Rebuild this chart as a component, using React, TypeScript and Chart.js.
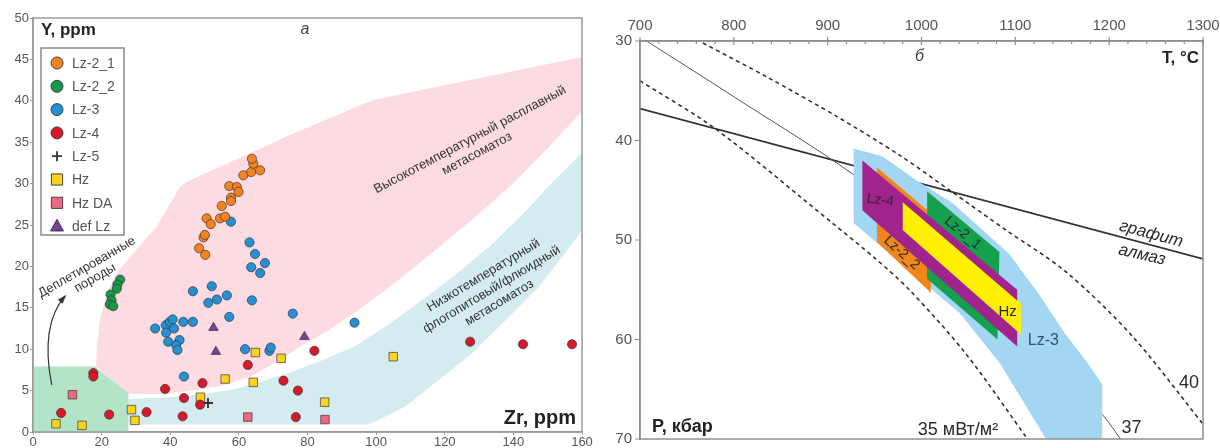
import React, { useEffect, useRef } from 'react';
import { Chart, registerables } from 'chart.js';

Chart.register(...registerables);

type Pt = [number, number];
const FONT = "'Liberation Sans', Arial, sans-serif";

// ================= Panel а : Zr (ppm) vs Y (ppm) =================
const zrTicks = [0, 20, 40, 60, 80, 100, 120, 140, 160];
const yppmTicks = [0, 5, 10, 15, 20, 25, 30, 35, 40, 45, 50];

const lz21: Pt[] = [[48.4, 22.2], [50.2, 21.4], [49.7, 23.5], [50.1, 23.8], [50.6, 25.8], [51.8, 25.1], [54.5, 25.8], [56.0, 26.0], [55.0, 27.3], [57.7, 28.3], [57.7, 27.9], [57.2, 29.7], [59.4, 29.6], [59.9, 29.0], [61.3, 31.0], [63.6, 31.4], [66.2, 31.6], [64.2, 32.4], [63.8, 33.0]];
const lz22: Pt[] = [[25.4, 18.4], [24.6, 17.8], [24.4, 17.3], [22.6, 16.6], [22.9, 15.9], [22.4, 15.4], [23.4, 15.2]];
const lz3: Pt[] = [[57.7, 25.4], [63.1, 22.9], [64.7, 21.5], [67.6, 20.4], [63.6, 19.9], [66.2, 19.2], [46.6, 17.0], [52.1, 17.6], [51.1, 15.6], [53.6, 16.0], [56.5, 16.5], [63.8, 15.9], [57.2, 13.9], [75.7, 14.3], [93.7, 13.2], [35.6, 12.5], [38.7, 12.9], [39.9, 13.3], [40.7, 13.6], [43.8, 13.3], [46.6, 13.3], [41.1, 12.5], [38.8, 12.0], [42.7, 11.1], [39.4, 10.9], [41.7, 10.5], [42.1, 9.9], [61.8, 10.0], [68.9, 9.8], [69.3, 10.2], [44.0, 6.7]];
const lz4: Pt[] = [[8.2, 2.3], [17.6, 7.1], [17.6, 6.7], [22.2, 2.1], [33.1, 2.4], [38.5, 5.2], [43.6, 1.9], [44.0, 4.1], [48.7, 3.3], [49.4, 5.9], [62.6, 8.1], [73.0, 6.2], [76.6, 1.8], [77.2, 5.0], [82.0, 9.8], [127.4, 10.9], [142.8, 10.6], [157.1, 10.6]];
const lz5: Pt[] = [[51.0, 3.5]];
const hz: Pt[] = [[6.7, 1.0], [14.3, 0.8], [28.7, 2.7], [29.7, 1.4], [48.8, 4.2], [56.0, 6.4], [64.2, 6.0], [64.8, 9.6], [72.3, 8.9], [85.0, 3.6], [105.0, 9.1]];
const hzDA: Pt[] = [[11.5, 4.5], [62.6, 1.8], [85.1, 1.5]];
const defLz: Pt[] = [[52.6, 12.6], [53.3, 9.7], [79.1, 11.5]];

// fields (Zr, Y)
const depletedField: Pt[] = [[0, 0], [0, 7.9], [18.0, 7.9], [27.8, 4.7], [27.8, 0]];
const meltField: Pt[] = [[27.8, 4.6], [18.4, 7.9], [18.6, 10.3], [19.5, 13.5], [21.5, 16.8], [24.4, 19.2], [29.2, 21.6], [36.0, 24.8], [42.8, 29.6], [44.7, 30.2], [75.0, 35.9], [99.0, 40.1], [160, 45.3], [160, 38.7], [150, 34.3], [140, 30.0], [127, 25.3], [115, 21.2], [104, 17.5], [94, 14.5], [85, 12.0], [78, 10.4], [72, 8.7], [63, 6.6], [55, 5.6], [48, 5.1], [38, 4.6]];
const fluidField: Pt[] = [[27.8, 4.0], [40, 4.2], [50, 4.6], [58, 5.1], [66, 6.0], [75, 7.2], [85, 8.8], [94, 10.4], [104, 13.1], [114, 16.1], [124, 19.3], [133, 22.4], [142, 26.0], [150, 29.6], [160, 33.7], [160, 24.5], [158, 23.2], [147.4, 17.5], [137.7, 13.5], [128, 9.5], [118.3, 6.3], [108.6, 3.1], [100, 1.3], [97, 0.9], [27.8, 0.9]];

// ================= Panel б : T (°C) vs P (kbar) =================
const tTicks = [700, 800, 900, 1000, 1100, 1200, 1300];
const pTicks = [30, 40, 50, 60, 70];

const graphiteDiamond: Pt[] = [[700, 36.8], [1300, 51.9]];
const geotherm35: Pt[] = [[700, 34.0], [780, 38.8], [905, 48.3], [950, 51.8], [987, 55.0], [1047, 61.4], [1113, 70.0]];
const geotherm37: Pt[] = [[707, 30.0], [800, 35.6], [927, 43.4], [1000, 49.2], [1100, 57.9], [1195, 67.8], [1212, 70.0]];
const geotherm40: Pt[] = [[767, 30.2], [835, 33.6], [910, 37.6], [977, 41.5], [1030, 45.0], [1090, 49.0], [1154, 53.2], [1225, 59.7], [1300, 68.5]];

const lz3Field: Pt[] = [[927.7, 40.8], [958.8, 41.6], [994.4, 44.0], [1033.3, 46.3], [1065.2, 49.0], [1093.6, 51.4], [1125.5, 55.5], [1152.1, 59.3], [1176.6, 62.3], [1192.6, 64.5], [1192.6, 70], [1132.7, 70], [1083, 62.3], [1040.4, 57.3], [987.2, 53.1], [927.7, 48.3]];
const lz22Field: Pt[] = [[952.5, 42.7], [1010, 47.3], [1010, 55.3], [952.5, 50.2]];
const lz21Field: Pt[] = [[1006, 45.1], [1083, 51.2], [1081, 60.0], [1006, 53.9]];
const lz4Field: Pt[] = [[937, 42.0], [1102, 55.0], [1102, 60.7], [937, 47.0]];
const hzField: Pt[] = [[980, 46.2], [1106, 56.4], [1106, 59.5], [980, 49.0]];

// ---------------- helpers ----------------
function poly(chart: any, pts: Pt[], color: string) {
  const { ctx, scales } = chart;
  ctx.beginPath();
  pts.forEach(([a, b], i) => {
    const px = scales.x.getPixelForValue(a);
    const py = scales.y.getPixelForValue(b);
    if (i === 0) ctx.moveTo(px, py); else ctx.lineTo(px, py);
  });
  ctx.closePath();
  ctx.fillStyle = color;
  ctx.fill();
}

function text(chart: any, s: string, a: number, b: number, font: string, color: string, angleDeg = 0, align: CanvasTextAlign = 'center') {
  const { ctx, scales } = chart;
  const px = scales.x.getPixelForValue(a);
  const py = scales.y.getPixelForValue(b);
  ctx.save();
  ctx.translate(px, py);
  ctx.rotate((angleDeg * Math.PI) / 180);
  ctx.font = font;
  ctx.fillStyle = color;
  ctx.textAlign = align;
  ctx.textBaseline = 'middle';
  ctx.fillText(s, 0, 0);
  ctx.restore();
}

function marker(ctx: CanvasRenderingContext2D, style: string, x: number, y: number, r: number, fill: string, stroke: string, lw: number) {
  ctx.beginPath();
  if (style === 'circle') ctx.arc(x, y, r, 0, Math.PI * 2);
  else if (style === 'rect') ctx.rect(x - r * 0.8, y - r * 0.8, r * 1.6, r * 1.6);
  else if (style === 'triangle') { ctx.moveTo(x, y - r * 1.05); ctx.lineTo(x + r, y + r * 0.75); ctx.lineTo(x - r, y + r * 0.75); ctx.closePath(); }
  else if (style === 'cross') { ctx.moveTo(x - r, y); ctx.lineTo(x + r, y); ctx.moveTo(x, y - r); ctx.lineTo(x, y + r); }
  if (style !== 'cross') { ctx.fillStyle = fill; ctx.fill(); }
  ctx.strokeStyle = stroke; ctx.lineWidth = lw; ctx.stroke();
}

const series = [
  { label: 'Lz-2_1', pts: lz21, style: 'circle', color: '#f4821f', r: 4.6 },
  { label: 'Lz-2_2', pts: lz22, style: 'circle', color: '#179a48', r: 4.6 },
  { label: 'Lz-3', pts: lz3, style: 'circle', color: '#2690d6', r: 4.6 },
  { label: 'Lz-4', pts: lz4, style: 'circle', color: '#d61a2c', r: 4.6 },
  { label: 'Lz-5', pts: lz5, style: 'cross', color: '#333333', r: 5 },
  { label: 'Hz', pts: hz, style: 'rect', color: '#fdd21c', r: 6 },
  { label: 'Hz DA', pts: hzDA, style: 'rect', color: '#ec6a82', r: 6 },
  { label: 'def Lz', pts: defLz, style: 'triangle', color: '#7b3f9e', r: 5.5 },
];

const leftPlugin = {
  id: 'leftDecor',
  beforeDatasetsDraw(chart: any) {
    const { ctx, chartArea: a } = chart;
    ctx.save();
    ctx.beginPath();
    ctx.rect(a.left, a.top, a.right - a.left, a.bottom - a.top);
    ctx.clip();
    poly(chart, meltField, '#fcdbe2');
    poly(chart, fluidField, '#d4ebf0');
    poly(chart, depletedField, '#b4e4c8');
    const f = `13px ${FONT}`;
    const c = '#333';
    text(chart, 'Высокотемпературный расплавный', 127.4, 35.3, f, c, -28);
    text(chart, 'метасоматоз', 129.4, 33.6, f, c, -28);
    text(chart, 'Низкотемпературный', 131.3, 18.9, f, c, -31);
    text(chart, 'флогопитовый/флюидный', 133.7, 17.2, f, c, -31);
    text(chart, 'метасоматоз', 135.9, 15.6, f, c, -31);
    text(chart, 'Деплетированные', 15.7, 19.9, f, c, -30);
    text(chart, 'породы', 18.1, 18.6, f, c, -30);
    // arrow
    const X = (v: number) => chart.scales.x.getPixelForValue(v);
    const Y = (v: number) => chart.scales.y.getPixelForValue(v);
    const sx = X(5.45), sy = Y(5.68), cx = X(2.04), cy = Y(12.9), ex = X(9.33), ey = Y(16.4);
    ctx.beginPath();
    ctx.moveTo(sx, sy);
    ctx.quadraticCurveTo(cx, cy, ex, ey);
    ctx.strokeStyle = '#333'; ctx.lineWidth = 1.2; ctx.stroke();
    const ang = Math.atan2(ey - cy, ex - cx);
    ctx.beginPath();
    ctx.moveTo(ex + Math.cos(ang) * 2, ey + Math.sin(ang) * 2);
    ctx.lineTo(ex - Math.cos(ang - 0.4) * 8, ey - Math.sin(ang - 0.4) * 8);
    ctx.lineTo(ex - Math.cos(ang + 0.4) * 8, ey - Math.sin(ang + 0.4) * 8);
    ctx.closePath(); ctx.fillStyle = '#333'; ctx.fill();
    ctx.restore();
  },
  afterDraw(chart: any) {
    const { ctx, chartArea: a } = chart;
    ctx.save();
    ctx.strokeStyle = '#9a9a9a'; ctx.lineWidth = 1.5;
    ctx.strokeRect(a.left, a.top, a.right - a.left, a.bottom - a.top);
    ctx.textBaseline = 'middle';
    ctx.fillStyle = '#222';
    ctx.font = `bold 17px ${FONT}`;
    ctx.textAlign = 'left';
    ctx.fillText('Y, ppm', a.left + 8, a.top + 12);
    ctx.font = `bold 20px ${FONT}`;
    ctx.textAlign = 'right';
    ctx.fillText('Zr, ppm', a.right - 6, a.bottom - 14);
    ctx.font = `italic 16px ${FONT}`;
    ctx.textAlign = 'center';
    ctx.fillStyle = '#444';
    ctx.fillText('а', a.left + 272, a.top + 12);
    // legend
    const lx = a.left + 8, ly = a.top + 30, lw = 83, lh = 187;
    ctx.fillStyle = '#fff';
    ctx.fillRect(lx, ly, lw, lh);
    ctx.strokeStyle = '#8a8a8a'; ctx.lineWidth = 1.5;
    ctx.strokeRect(lx, ly, lw, lh);
    series.forEach((s, i) => {
      const yy = ly + 15 + i * 23.3;
      const rr = s.style === 'circle' ? 6 : s.style === 'rect' ? 7 : s.style === 'cross' ? 5 : 6.5;
      marker(ctx, s.style, lx + 16, yy, rr, s.color, '#333', s.style === 'cross' ? 1.8 : 0.9);
      ctx.font = `14px ${FONT}`;
      ctx.fillStyle = '#555';
      ctx.textAlign = 'left';
      ctx.textBaseline = 'middle';
      ctx.fillText(s.label, lx + 31, yy + 1);
    });
    ctx.restore();
  },
};

const plain = (v: any) => String(v);

function leftConfig(): any {
  return {
    type: 'scatter',
    data: {
      datasets: series.map((s) => ({
        label: s.label,
        data: s.pts.map(([x, y]) => ({ x, y })),
        pointStyle: s.style,
        pointRadius: s.r,
        pointBackgroundColor: s.color,
        pointBorderColor: s.style === 'cross' ? '#333' : 'rgba(50,50,50,0.85)',
        pointBorderWidth: s.style === 'cross' ? 1.8 : 0.8,
        showLine: false,
      })),
    },
    options: {
      animation: false,
      responsive: false,
      events: [],
      layout: { padding: { left: 0, top: 18, right: 18, bottom: 0 } },
      plugins: { legend: { display: false }, tooltip: { enabled: false } },
      scales: {
        x: {
          type: 'linear', min: 0, max: 160,
          afterBuildTicks: (s: any) => { s.ticks = zrTicks.map((v) => ({ value: v })); },
          afterFit: (s: any) => { s.height = 16; s.paddingLeft = 0; s.paddingRight = 0; },
          ticks: { color: '#555', font: { family: FONT, size: 13 }, padding: 0, maxRotation: 0, autoSkip: false, callback: plain },
          grid: { drawOnChartArea: false, drawTicks: true, tickLength: 3, color: '#999' },
          border: { color: '#999', width: 1.5 },
        },
        y: {
          type: 'linear', min: 0, max: 50,
          afterBuildTicks: (s: any) => { s.ticks = yppmTicks.map((v) => ({ value: v })); },
          afterFit: (s: any) => { s.width = 33; s.paddingTop = 0; s.paddingBottom = 0; },
          ticks: { color: '#555', font: { family: FONT, size: 13 }, padding: 1, autoSkip: false, callback: plain },
          grid: { drawOnChartArea: false, drawTicks: true, tickLength: 3, color: '#999' },
          border: { color: '#999', width: 1.5 },
        },
      },
    },
    plugins: [leftPlugin],
  };
}

const rightPlugin = {
  id: 'rightDecor',
  afterDatasetsDraw(chart: any) {
    const { ctx, chartArea: a } = chart;
    ctx.save();
    ctx.beginPath();
    ctx.rect(a.left, a.top, a.right - a.left, a.bottom - a.top);
    ctx.clip();
    poly(chart, lz3Field, '#a3d6f3');
    poly(chart, lz22Field, '#f1861d');
    poly(chart, lz21Field, '#14a04c');
    poly(chart, lz4Field, '#a1238d');
    poly(chart, hzField, '#fff000');
    const c = '#2a2a2a';
    text(chart, 'Lz-4', 956, 46.0, `14px ${FONT}`, c, 8);
    text(chart, 'Lz-2_1', 1043.9, 49.3, `14px ${FONT}`, c, 40);
    text(chart, 'Lz-2_2', 979, 51.3, `14px ${FONT}`, c, 42);
    text(chart, 'Hz', 1091.8, 57.2, `15px ${FONT}`, c, 0);
    text(chart, 'Lz-3', 1129.8, 60.1, `16px ${FONT}`, '#34506a', 0);
    text(chart, 'графит', 1244.7, 49.4, `italic 17px ${FONT}`, c, 15);
    text(chart, 'алмаз', 1235, 51.5, `italic 17px ${FONT}`, c, 13);
    text(chart, '40', 1285, 64.4, `18px ${FONT}`, c, 0);
    text(chart, '37', 1223.9, 68.9, `18px ${FONT}`, c, 0);
    text(chart, '35 мВт/м²', 996, 69.1, `18px ${FONT}`, c, 0, 'left');
    text(chart, 'б', 998, 31.6, `italic 16px ${FONT}`, '#444', 0);
    ctx.restore();
  },
  afterDraw(chart: any) {
    const { ctx, chartArea: a, scales } = chart;
    ctx.save();
    ctx.strokeStyle = '#8f8f8f'; ctx.lineWidth = 1.5;
    ctx.strokeRect(a.left, a.top, a.right - a.left, a.bottom - a.top);
    ctx.lineWidth = 1.2;
    ctx.beginPath();
    for (let t = 700; t <= 1300; t += 20) {
      const px = scales.x.getPixelForValue(t);
      const major = t % 100 === 0;
      ctx.moveTo(px, a.top - (major ? 4 : 0));
      ctx.lineTo(px, a.top + (major ? 4 : 3));
    }
    pTicks.forEach((p) => {
      const py = scales.y.getPixelForValue(p);
      ctx.moveTo(a.left - 5, py);
      ctx.lineTo(a.left + 1, py);
    });
    ctx.stroke();
    ctx.fillStyle = '#222';
    ctx.textBaseline = 'middle';
    ctx.font = `bold 17px ${FONT}`;
    ctx.textAlign = 'right';
    ctx.fillText('T, °C', a.right - 4, a.top + 17);
    ctx.font = `bold 18px ${FONT}`;
    ctx.textAlign = 'left';
    ctx.fillText('P, кбар', a.left + 12, a.bottom - 12);
    ctx.restore();
  },
};

function rightConfig(): any {
  const line = (pts: Pt[], color: string, width: number, dash: number[], tension: number) => ({
    data: pts.map(([x, y]) => ({ x, y })),
    showLine: true,
    borderColor: color,
    borderWidth: width,
    borderDash: dash,
    pointRadius: 0,
    fill: false,
    tension,
  });
  return {
    type: 'scatter',
    data: {
      datasets: [
        line(geotherm37, '#555', 1, [], 0.3),
        line(geotherm35, '#333', 1.6, [4, 3.5], 0.3),
        line(geotherm40, '#333', 1.6, [4, 3.5], 0.3),
        line(graphiteDiamond, '#333', 1.8, [], 0),
      ],
    },
    options: {
      animation: false,
      responsive: false,
      events: [],
      layout: { padding: { left: 0, top: 0, right: 17, bottom: 9 } },
      plugins: { legend: { display: false }, tooltip: { enabled: false } },
      scales: {
        x: {
          type: 'linear', position: 'top', min: 700, max: 1300,
          afterBuildTicks: (s: any) => { s.ticks = tTicks.map((v) => ({ value: v })); },
          afterFit: (s: any) => { s.height = 41; s.paddingLeft = 0; s.paddingRight = 0; },
          ticks: { color: '#555', font: { family: FONT, size: 15 }, padding: 6, maxRotation: 0, autoSkip: false, callback: plain },
          grid: { drawOnChartArea: false, drawTicks: false, color: '#999' },
          border: { color: '#8f8f8f', width: 1.5 },
        },
        y: {
          type: 'linear', reverse: true, min: 30, max: 70,
          afterBuildTicks: (s: any) => { s.ticks = pTicks.map((v) => ({ value: v })); },
          afterFit: (s: any) => { s.width = 40; s.paddingTop = 0; s.paddingBottom = 0; },
          ticks: { color: '#555', font: { family: FONT, size: 15 }, padding: 8, autoSkip: false, callback: plain },
          grid: { drawOnChartArea: false, drawTicks: false, color: '#999' },
          border: { color: '#8f8f8f', width: 1.5 },
        },
      },
    },
    plugins: [rightPlugin],
  };
}

function ChartCanvas({ make, width, height, left }: { make: () => any; width: number; height: number; left: number }) {
  const ref = useRef<HTMLCanvasElement>(null);
  useEffect(() => {
    const chart = new Chart(ref.current as HTMLCanvasElement, make());
    return () => chart.destroy();
  }, [make]);
  return (
    <canvas
      ref={ref}
      width={width}
      height={height}
      style={{ position: 'absolute', left, top: 0, width, height, display: 'block' }}
    />
  );
}

export default function App() {
  return (
    <div style={{ position: 'fixed', left: 0, top: 0, width: 1220, height: 448, background: '#fff', overflow: 'hidden' }}>
      <ChartCanvas make={leftConfig} width={600} height={448} left={0} />
      <ChartCanvas make={rightConfig} width={620} height={448} left={600} />
    </div>
  );
}
